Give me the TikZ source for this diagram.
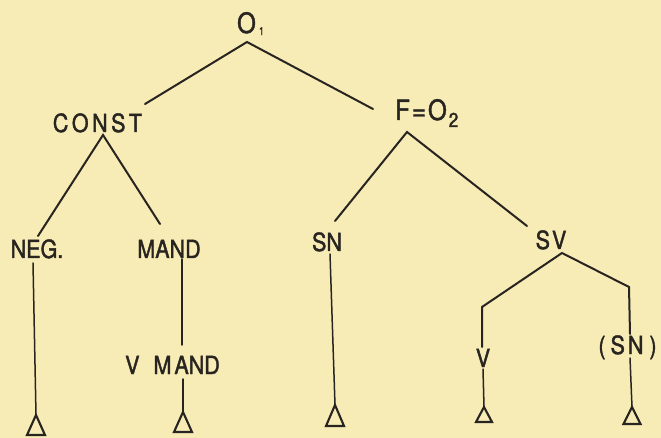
\documentclass[tikz,border=0pt]{standalone}
\usepackage{fontspec}
\newfontfamily\lettering[FakeStretch=0.86,FakeBold=1.6]{TeX Gyre Heros}
\definecolor{paper}{RGB}{247,236,182}
\definecolor{ink}{RGB}{40,36,32}
\tikzset{
  lbl/.style={inner sep=0pt, anchor=base, text=ink,
              font=\lettering\fontsize{25}{25}\selectfont},
  lblbig/.style={lbl, font=\lettering\fontsize{28}{28}\selectfont},
  branch/.style={draw=ink, line width=2pt, line cap=round, line join=miter},
  stem/.style={draw=ink, line width=1.5pt, line cap=round},
  leaf/.style={draw=ink, line width=2.1pt, line join=miter, fill=paper},
}
% open triangle hanging under a terminal branch: apex, height, half width
\newcommand{\leafmark}[3]{\draw[leaf] (#1) -- ++(-#3,#2) -- ++(2*#3,0) -- cycle;}
\begin{document}
\begin{tikzpicture}[x=1pt,y=-1pt]
\fill[paper] (0,0) rectangle (661,438);
\useasboundingbox (0,0) rectangle (661,438);

% ---- labels
\node[lblbig] (o1) at (246.5,33) {O\rlap{\kern3pt\raisebox{-2pt}{\fontsize{11}{11}\selectfont 1}}};
\node[lbl] (const) at (97.5,132) {C\kern3.5pt O\kern3.5pt N\kern3.5pt S\kern3.5pt T};
\node[lblbig] (fo2) at (421,120) {F\kern2pt=\kern2pt O\rlap{\kern2pt\raisebox{-7pt}{\fontsize{20}{20}\selectfont 2}}};
\node[lbl] (neg) at (37,258) {NEG.};
\node[lbl] (mand) at (169,258) {MAND};
\node[lbl] (sn) at (327,251) {SN};
\node[lbl] (sv) at (551,249) {S\kern2pt V};
\node[lbl] (vmand) at (172.5,374) {V\hspace{14pt}M\kern3pt AND};
\node[lbl] (v) at (483,367) {V};
\node[lbl] (snp) at (627.5,354) {(\kern5pt S\kern3pt N\kern6pt)};

% ---- branch points
\coordinate (o1foot) at (247,42);
\coordinate (consthead) at (145,104);
\coordinate (constfoot) at (103,135);
\coordinate (fhead) at (373,109);
\coordinate (ffoot) at (407,132);
\coordinate (neghead) at (38,236);
\coordinate (mandhead) at (160,224);
\coordinate (snhead) at (335,221);
\coordinate (svhead) at (527,226);
\coordinate (svfoot) at (562,253);
\coordinate (vbend) at (482,307);
\coordinate (vhead) at (482,347);
\coordinate (snpbend) at (629,287);
\coordinate (snphead) at (630,334);

% ---- stems and leaves
\coordinate (negfoot) at (33,263);
\coordinate (negleaf) at (36,415);
\coordinate (mandfoot) at (182,259);
\coordinate (vmandhead) at (182,345);
\coordinate (vmandfoot) at (183,379);
\coordinate (vmandleaf) at (183,412);
\coordinate (snfoot) at (330,254);
\coordinate (snleaf) at (335,405);
\coordinate (vfoot) at (483,369);
\coordinate (vleaf) at (484,407);
\coordinate (snpfoot) at (630,358);
\coordinate (snpleaf) at (632,407);

% ---- tree
\draw[branch] (consthead) -- (o1foot) -- (fhead);
\draw[branch] (neghead) -- (constfoot) -- (mandhead);
\draw[branch] (snhead) -- (ffoot) -- (svhead);
\draw[branch] (vhead) -- (vbend) -- (svfoot) -- (snpbend) -- (snphead);

\draw[stem] (negfoot) -- (negleaf);
\draw[stem] (mandfoot) -- (vmandhead);
\draw[stem] (vmandfoot) -- (vmandleaf);
\draw[stem] (snfoot) -- (snleaf);
\draw[stem] (vfoot) -- (vleaf);
\draw[stem] (snpfoot) -- (snpleaf);

\leafmark{negleaf}{20}{9}
\leafmark{vmandleaf}{20}{9}
\leafmark{snleaf}{21}{9}
\leafmark{vleaf}{15}{8}
\leafmark{snpleaf}{17}{8.5}
\end{tikzpicture}
\end{document}
